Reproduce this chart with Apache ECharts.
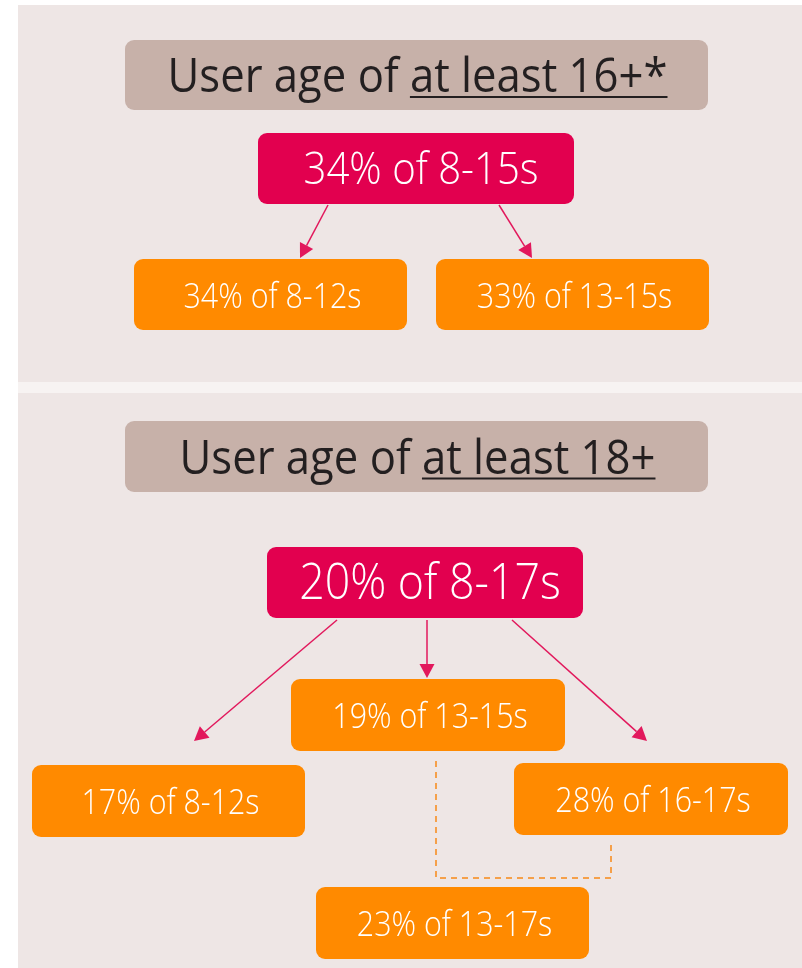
<!DOCTYPE html>
<html><head><meta charset="utf-8">
<script src="https://cdn.jsdelivr.net/npm/echarts@6/dist/echarts.min.js"></script>
<style>html,body{margin:0;padding:0;background:#ffffff}#c{width:802px;height:968px}</style>
</head><body><div id="c"></div><script>
// ---------------- DATA ----------------
const titlePrefix = ['User age of ', 'User age of '];
const titleEmph = ['at least 16+*', 'at least 18+'];
const rootLabels = ['34% of 8-15s', '20% of 8-17s'];
const childLabels = ['34% of 8-12s', '33% of 13-15s', '17% of 8-12s', '19% of 13-15s', '28% of 16-17s', '23% of 13-17s'];
const childParent = [0, 0, 1, 1, 1, -1];      // index into rootLabels; -1 = derived (combined) node
const combinedFrom = [3, 4];                   // children joined by the dashed connector into node 5

// ---------------- LAYOUT (diagram units = px) ----------------
const panelRects = [[18, 5, 784, 377], [18, 393, 784, 575]];
const titleRects = [[125, 40, 583, 70], [125, 421, 583, 71]];
const rootRects = [[258, 133, 316, 71], [267, 547, 316, 71]];
const childRects = [[134, 259, 273, 71], [436, 259, 273, 71], [32, 765, 273, 72], [291, 679, 274, 72], [514, 763, 274, 72], [316, 887, 273, 72]];
const arrowStart = [[328, 205], [499, 205], [337, 620], [427, 620], [512, 620]];
const arrowTip = [[300, 258], [532, 258], [194, 741], [427, 678], [647, 741]];
const dashPath = [[436, 761], [436, 878], [611, 878], [611, 842]];

// ---------------- STYLE ----------------
const C = { panel: '#EEE6E5', title: '#C7B1A9', root: '#E2004F', child: '#FF8A00', arrow: '#E2185C', dash: '#F5A04A', dark: '#231F20' };
const FAM = '"Open Sans", "Noto Sans", sans-serif';
const titleSize = 47, rootSize = [44, 49], childSize = 34;
const boxWeight = '300';

const ctx = document.createElement('canvas').getContext('2d');
function tw(t, size, weight) { ctx.font = (weight || 'normal') + ' ' + size + 'px ' + FAM; return ctx.measureText(t).width; }
const kTitle = 500 / tw(titlePrefix[0] + titleEmph[0], titleSize);
const kRoot = 235 / tw(rootLabels[0], rootSize[0], boxWeight);
const kChild = 178 / tw(childLabels[0], childSize, boxWeight);

const chart = echarts.init(document.getElementById('c'), null, { renderer: 'canvas' });

function rectOf(api) {
  const p = api.coord([api.value(0), api.value(1)]);
  const s = api.size([api.value(2), api.value(3)]);
  return { x: p[0], y: p[1], w: s[0], h: s[1] };
}

function boxText(text, cx, cy, size, k) {
  return { type: 'text', x: cx, y: cy, scaleX: k, style: { text: text, x: 0, y: 0, font: boxWeight + ' ' + size + 'px ' + FAM, fill: '#ffffff', align: 'center', verticalAlign: 'middle' } };
}

const boxData = [];
titleRects.forEach((r, i) => boxData.push([...r, 0, i]));
rootRects.forEach((r, i) => boxData.push([...r, 1, i]));
childRects.forEach((r, i) => boxData.push([...r, 2, i]));

const arrowData = arrowStart.map((s, i) => [s[0], s[1], arrowTip[i][0], arrowTip[i][1]]);

const option = {
  backgroundColor: '#ffffff',
  animation: false,
  grid: { left: 0, right: 0, top: 0, bottom: 0 },
  xAxis: { type: 'value', min: 0, max: 802, show: false },
  yAxis: { type: 'value', min: 0, max: 968, inverse: true, show: false },
  series: [
    {
      type: 'custom', coordinateSystem: 'cartesian2d', silent: true, z: 1,
      data: panelRects,
      renderItem: (params, api) => {
        const r = rectOf(api);
        return { type: 'rect', shape: { x: r.x, y: r.y, width: r.w, height: r.h }, style: { fill: C.panel } };
      }
    },
    {
      type: 'custom', coordinateSystem: 'cartesian2d', silent: true, z: 2,
      data: [[18, 382, 784, 11]],
      renderItem: (params, api) => {
        const r = rectOf(api);
        return { type: 'rect', shape: { x: r.x, y: r.y, width: r.w, height: r.h }, style: { fill: '#F7F3F2' } };
      }
    },
    {
      type: 'custom', coordinateSystem: 'cartesian2d', silent: true, z: 3,
      data: arrowData,
      renderItem: (params, api) => {
        const a = api.coord([api.value(0), api.value(1)]);
        const b = api.coord([api.value(2), api.value(3)]);
        const dx = b[0] - a[0], dy = b[1] - a[1];
        const L = Math.sqrt(dx * dx + dy * dy), ux = dx / L, uy = dy / L;
        const hl = 14, hw = 7.5;
        const bx = b[0] - ux * hl, by = b[1] - uy * hl;
        return {
          type: 'group', children: [
            { type: 'line', shape: { x1: a[0], y1: a[1], x2: bx, y2: by }, style: { stroke: C.arrow, lineWidth: 1.5 } },
            { type: 'polygon', shape: { points: [[b[0], b[1]], [bx - uy * hw, by + ux * hw], [bx + uy * hw, by - ux * hw]] }, style: { fill: C.arrow } }
          ]
        };
      }
    },
    {
      type: 'custom', coordinateSystem: 'cartesian2d', silent: true, z: 3,
      data: [0],
      renderItem: (params, api) => {
        const pts = dashPath.map(p => api.coord(p));
        return { type: 'polyline', shape: { points: pts }, style: { stroke: C.dash, lineWidth: 2, lineDash: [6, 5], fill: null } };
      }
    },
    {
      type: 'custom', coordinateSystem: 'cartesian2d', silent: true, z: 4,
      data: boxData,
      renderItem: (params, api) => {
        const r = rectOf(api);
        const kind = api.value(4), idx = api.value(5);
        const cx = r.x + r.w / 2, cy = r.y + r.h / 2;
        if (kind === 0) {
          const pre = titlePrefix[idx], em = titleEmph[idx];
          const wp = tw(pre, titleSize) * kTitle, we = tw(em, titleSize) * kTitle;
          const sx = cx + 1 - (wp + we) / 2;
          const font = 'normal ' + titleSize + 'px ' + FAM;
          const ty = cy + 4;
          const uy = cy + 22;
          return {
            type: 'group', children: [
              { type: 'rect', shape: { x: r.x, y: r.y, width: r.w, height: r.h, r: 9 }, style: { fill: C.title } },
              { type: 'text', x: sx, y: ty, scaleX: kTitle, style: { text: pre, x: 0, y: 0, font: font, fill: C.dark, align: 'left', verticalAlign: 'middle' } },
              { type: 'text', x: sx + wp, y: ty, scaleX: kTitle, style: { text: em, x: 0, y: 0, font: font, fill: C.dark, align: 'left', verticalAlign: 'middle' } },
              { type: 'line', shape: { x1: sx + wp, y1: uy, x2: sx + wp + we, y2: uy }, style: { stroke: C.dark, lineWidth: 2 } }
            ]
          };
        }
        if (kind === 1) {
          return {
            type: 'group', children: [
              { type: 'rect', shape: { x: r.x, y: r.y, width: r.w, height: r.h, r: 9 }, style: { fill: C.root } },
              boxText(rootLabels[idx], cx + 5, cy + 3, rootSize[idx], kRoot)
            ]
          };
        }
        return {
          type: 'group', children: [
            { type: 'rect', shape: { x: r.x, y: r.y, width: r.w, height: r.h, r: 9 }, style: { fill: C.child } },
            boxText(childLabels[idx], cx + 2, cy + 3.5, childSize, kChild)
          ]
        };
      }
    }
  ]
};
chart.setOption(option);
</script></body></html>
